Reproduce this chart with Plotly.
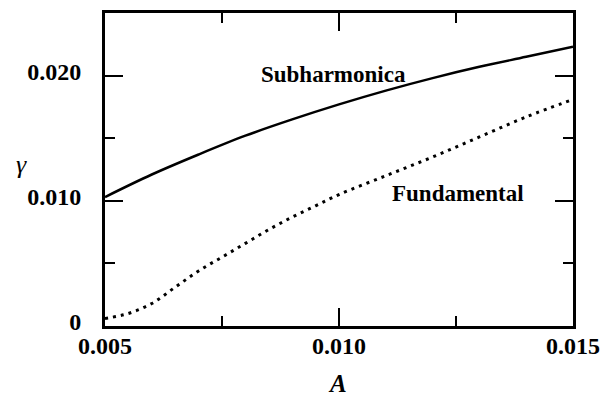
import plotly.graph_objects as go

# Growth rate gamma versus forcing amplitude A
amp_sub = [0.005, 0.006, 0.007, 0.008, 0.009, 0.010, 0.011, 0.012, 0.013, 0.014, 0.015]
gamma_sub = [0.0103, 0.0121, 0.0137, 0.0152, 0.0165, 0.0177, 0.0188, 0.0198, 0.0207, 0.0215, 0.0223]

amp_fund = [0.005, 0.0055, 0.006, 0.0065, 0.007, 0.0075, 0.008, 0.0085, 0.009,
            0.0095, 0.010, 0.011, 0.012, 0.013, 0.014, 0.015]
gamma_fund = [0.0006, 0.0010, 0.0018, 0.0031, 0.0044, 0.0055, 0.0066, 0.0077, 0.0087,
              0.0096, 0.0105, 0.0120, 0.0135, 0.0151, 0.0167, 0.0181]

x_tickvals = [0.005, 0.010, 0.015]
x_ticktext = ["0.005", "0.010", "0.015"]
y_tickvals = [0, 0.010, 0.020]
y_ticktext = ["0", "0.010", "0.020"]

FONT = "Liberation Serif"

fig = go.Figure()
fig.add_trace(go.Scatter(
    x=amp_sub, y=gamma_sub, mode="lines", name="Subharmonica",
    line=dict(color="black", width=2.5, shape="spline"),
))
fig.add_trace(go.Scatter(
    x=amp_fund, y=gamma_fund, mode="lines", name="Fundamental",
    line=dict(color="black", width=3, shape="spline", dash="3px,5px"),
))

axis_common = dict(
    showline=True, linecolor="black", linewidth=3, mirror="ticks",
    ticks="inside", ticklen=18, tickwidth=2, tickcolor="black",
    showgrid=False, zeroline=False,
    tickfont=dict(family=FONT, size=24, color="black", weight="bold"),
)

fig.update_xaxes(
    range=[0.005, 0.015], tickvals=x_tickvals, ticktext=x_ticktext,
    minor=dict(ticks="inside", ticklen=10, tickwidth=2, tickcolor="black",
               tickvals=[0.0075, 0.0125]),
    ticklabelstandoff=-4,
    **axis_common,
)
fig.update_yaxes(
    range=[0, 0.025], tickvals=y_tickvals, ticktext=y_ticktext,
    minor=dict(ticks="inside", ticklen=10, tickwidth=2, tickcolor="black",
               tickvals=[0.005, 0.015]),
    ticklabelstandoff=16, ticklabelshift=-4,
    **axis_common,
)

label_font = dict(family=FONT, size=23, color="black", weight="bold")
fig.add_annotation(x=0.00988, y=0.0201, text="Subharmonica", showarrow=False,
                   font=label_font)
fig.add_annotation(x=0.01254, y=0.01055, text="Fundamental", showarrow=False,
                   font=label_font)
fig.add_annotation(xref="paper", x=0, xshift=-84, xanchor="center", y=0.0129,
                   text="<i>γ</i>", showarrow=False,
                   font=dict(family=FONT, size=26, color="black"))
fig.add_annotation(x=0.00997, yref="paper", y=0, yshift=-57, yanchor="middle",
                   text="<i>A</i>", showarrow=False,
                   font=dict(family=FONT, size=25, color="black", weight="bold"))

fig.update_layout(
    width=610, height=396,
    margin=dict(l=105, r=32, t=10, b=70),
    paper_bgcolor="white", plot_bgcolor="white",
    showlegend=False,
)

fig.write_html("out.html")
